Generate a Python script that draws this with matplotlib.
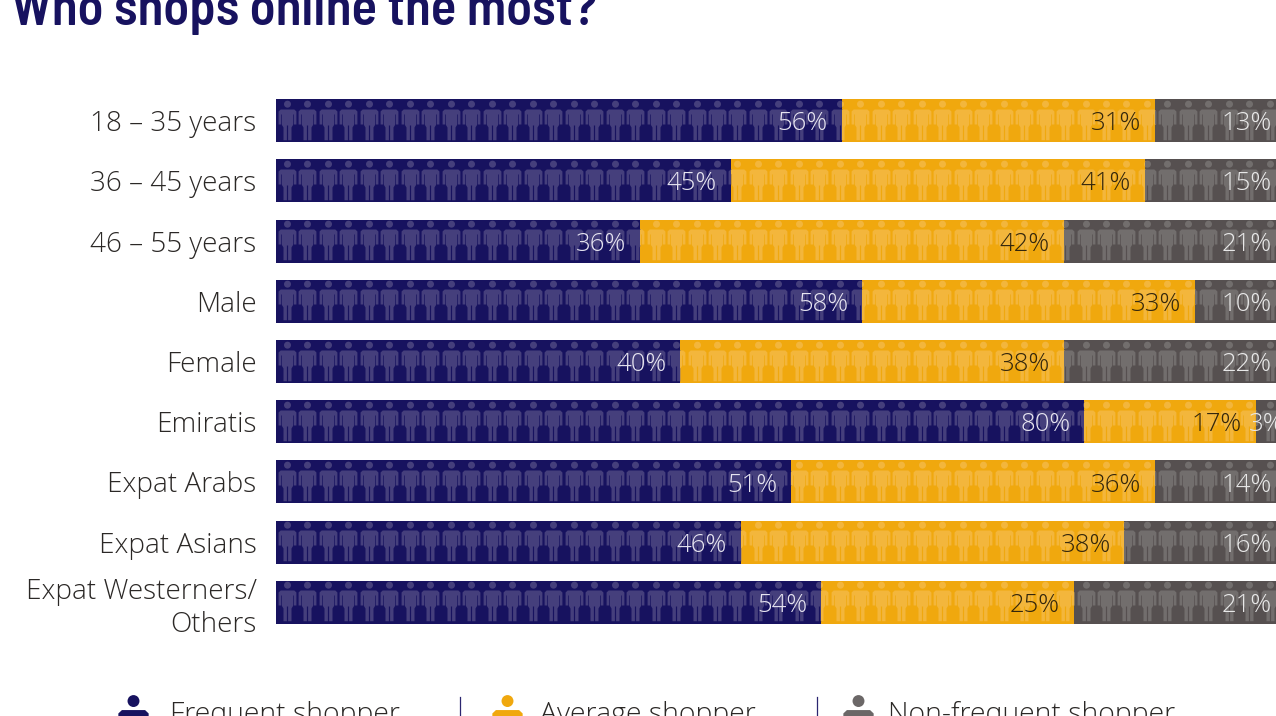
import numpy as np
import matplotlib
matplotlib.use("Agg")
import matplotlib.pyplot as plt
from matplotlib.lines import Line2D
from matplotlib.path import Path

groups = ["18 – 35 years", "36 – 45 years", "46 – 55 years", "Male", "Female",
          "Emiratis", "Expat Arabs", "Expat Asians", "Expat Westerners/\nOthers"]
frequent = [56, 45, 36, 58, 40, 80, 51, 46, 54]
average = [31, 41, 42, 33, 38, 17, 36, 38, 25]
non_frequent = [13, 15, 21, 10, 22, 3, 14, 16, 21]

legend_names = ["Frequent shopper", "Average shopper", "Non-frequent shopper"]
bar_colors = ["#17125f", "#f0a80e", "#565050"]
icon_colors = ["#453f7c", "#f3b63c", "#726e6d"]
legend_colors = ["#17125f", "#f0a80e", "#6b6767"]
label_colors = ["#e6e4f0", "#33260c", "#e8e8e8"]

W, H = 1276, 716
X_MAX = 99
plt.rcParams["font.family"] = ["Open Sans", "DejaVu Sans"]
plt.rcParams["font.weight"] = "light"


def person_path():
    # little standing figure, centred on (0, 0), units are pixels of the small icon
    head = Path.circle((0, 17.3), 3.5)
    half = [(0, 12), (6.8, 12), (8.9, 10), (8.9, -3), (6.2, -3), (6.2, 7), (5.5, 7),
            (5.5, -3.5), (4.0, -6), (4.0, -18.7), (0.6, -18.7), (0.6, -4)]
    mirror = [(-x, y) for x, y in half[1:][::-1]]
    pts = half + mirror + [half[0]]
    codes = [Path.MOVETO] + [Path.LINETO] * (len(pts) - 2) + [Path.CLOSEPOLY]
    return Path.make_compound_path(head, Path(pts, codes))


PERSON = person_path()


def fx(px):
    return px / W


def fy(py):
    return 1 - py / H


fig = plt.figure(figsize=(W / 100, H / 100), dpi=100, facecolor="white")
ax = fig.add_axes([fx(276), fy(632.6), fx(1000), (632.6 - 90.4) / H])
ax.set_xlim(0, X_MAX)
ax.set_ylim(8.5, -0.5)
for spine in ax.spines.values():
    spine.set_visible(False)
ax.xaxis.set_visible(False)

rows = np.arange(len(groups))
icon_x = 1.09 + 2.027 * np.arange(50)
left = np.zeros(len(groups))

for k, values in enumerate([frequent, average, non_frequent]):
    values = np.array(values)
    bars = ax.barh(rows, values, left=left, height=0.714, color=bar_colors[k], linewidth=0)
    for row, bar in zip(rows, bars):
        start, end = left[row], left[row] + values[row]
        xs = icon_x[(icon_x > start - 1.2) & (icon_x < end + 1.2)]
        icons, = ax.plot(xs, np.full(len(xs), row), ls="none", marker=PERSON, ms=30,
                         mfc=icon_colors[k], mew=0)
        icons.set_snap(False)
        icons.set_clip_path(bar)

        # the last segment runs to the edge of the canvas, so its labels sit against it
        text = f"{values[row]}%"
        if k == 2 and values[row] < 5:
            anchor, offset, align = start, -5, "left"
        elif k == 2:
            anchor, offset, align = X_MAX, -3, "right"
        else:
            anchor, offset, align = end, -10, "right"
        ax.annotate(text, (anchor, row + 0.05), xytext=(offset, 0),
                    textcoords="offset points", ha=align, va="center",
                    fontsize=18.5, color=label_colors[k])
    left = left + values

ax.set_yticks(rows, groups, fontsize=20.1, color="#2b2826", linespacing=1.22)
ax.tick_params(axis="y", length=0, pad=14)

fig.text(fx(11), fy(25), "Who shops online the most?", fontsize=38, color="#17125f",
         family=["Barlow Semi Condensed", "Barlow Condensed", "Roboto Condensed", "Liberation Sans"],
         fontweight=600, va="baseline")

# legend row, cut off by the bottom edge
legend_icon_x = [133, 507, 858]
legend_text_x = [170, 540, 888]
for name, color, icon, tx in zip(legend_names, legend_colors, legend_icon_x, legend_text_x):
    fig.add_artist(Line2D([fx(icon)], [fy(730)], transform=fig.transFigure, ls="none",
                          marker=PERSON, ms=51, mfc=color, mew=0))
    fig.text(fx(tx), fy(722), name, fontsize=20.4, color="#2b2826", va="baseline")
for sep in [460, 817]:
    fig.add_artist(Line2D([fx(sep), fx(sep)], [fy(697), fy(716)], transform=fig.transFigure,
                          color="#2b2670", lw=0.9))

fig.savefig("out.png", dpi=100)
